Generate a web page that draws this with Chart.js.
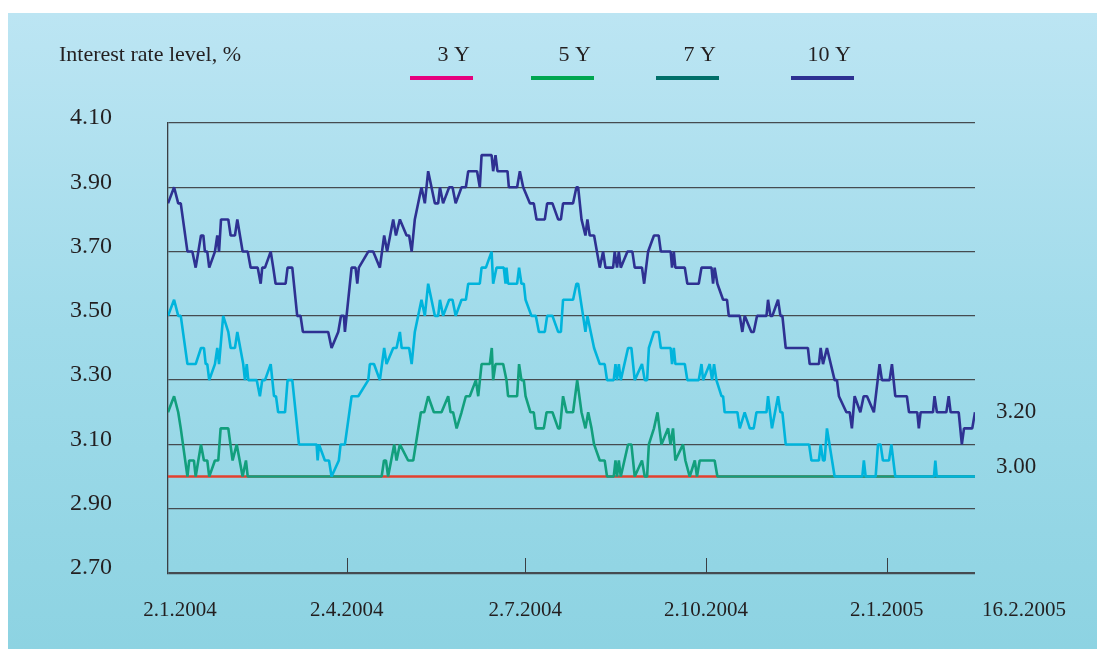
<!DOCTYPE html>
<html>
<head>
<meta charset="utf-8">
<script src="https://cdn.jsdelivr.net/npm/chart.js@4.4.1/dist/chart.umd.min.js"></script>
<style>
  html, body { margin: 0; padding: 0; background: #ffffff; }
  #wrap { width: 1097px; height: 649px; }
</style>
</head>
<body>
<div id="wrap"><canvas id="c" width="1097" height="649"></canvas></div>
<script>
// ---- Data (days counted from 2.1.2004) ----
const titleText = 'Interest rate level, %';
const seriesNames = ['3 Y', '5 Y', '7 Y', '10 Y'];
const yTicks = [2.70, 2.90, 3.10, 3.30, 3.50, 3.70, 3.90, 4.10];
const tickDays = [0, 91, 182, 274, 366, 411];
const tickLabels = ['2.1.2004', '2.4.2004', '2.7.2004', '2.10.2004', '2.1.2005', '16.2.2005'];

const days3Y = [0, 411];
const rate3Y = [3.00, 3.00];

const days5Y = [0,3.1,5.2,6.5,9.9,10.8,13.2,14.1,16.8,18.3,20.0,21.0,23.9,25.6,26.8,30.7,32.9,35.0,38.0,39.7,40.6,
  108.8,110.0,111.0,112.1,115.2,116.4,118.1,122.3,124.9,128.8,130.5,132.5,135.4,139.3,142.7,143.9,145.2,147.0,149.5,
  151.7,153.7,156.8,158.0,159.7,163.9,164.9,165.6,166.8,170.7,172.4,173.2,177.8,178.8,180.0,181.2,182.1,184.6,186.3,
  187.3,191.4,192.8,195.8,198.7,199.6,201.2,203.0,206.3,208.4,210.6,212.6,214.0,215.7,217.0,219.9,222.4,223.6,227.0,
  227.9,228.7,229.6,230.6,234.3,236.0,237.7,241.4,242.8,244.0,244.9,247.5,249.3,251.3,254.7,255.9,257.2,258.4,262.3,
  263.5,265.7,268.3,269.4,270.8,278.4,279.8,411];
const rate5Y = [3.20,3.25,3.20,3.15,3.00,3.05,3.05,3.00,3.10,3.05,3.05,3.00,3.05,3.05,3.15,3.15,3.05,3.10,3.00,3.05,3.00,
  3.00,3.05,3.05,3.00,3.10,3.05,3.10,3.05,3.05,3.20,3.20,3.25,3.20,3.20,3.25,3.20,3.20,3.15,3.20,
  3.25,3.25,3.30,3.25,3.35,3.35,3.40,3.30,3.35,3.35,3.30,3.25,3.25,3.35,3.30,3.30,3.25,3.20,3.20,
  3.15,3.15,3.20,3.20,3.15,3.15,3.25,3.20,3.20,3.30,3.20,3.15,3.20,3.15,3.10,3.05,3.05,3.00,3.00,
  3.05,3.00,3.05,3.00,3.10,3.10,3.00,3.05,3.00,3.00,3.10,3.15,3.20,3.10,3.15,3.10,3.15,3.05,3.10,
  3.05,3.00,3.05,3.00,3.05,3.05,3.00,3.00];

const days7Y = [0,3.1,5.2,6.5,9.9,14.1,16.8,18.3,19.2,20.0,21.0,23.9,25.1,26.0,28.1,30.7,31.9,34.1,35.3,38.3,39.2,40.1,
  40.9,45.2,46.8,48.0,49.4,52.3,54.0,55.0,56.1,59.6,60.9,63.3,66.7,75.7,76.2,76.9,79.9,82.0,83.3,87.0,87.9,90.1,93.5,
  96.9,102.0,102.8,104.9,107.9,110.1,111.3,114.7,116.4,118.1,119.0,122.8,124.1,125.7,129.1,130.8,132.5,135.9,137.6,
  138.5,140.1,143.2,144.9,146.5,149.5,151.7,152.9,158.8,159.7,161.9,164.8,165.6,167.3,171.0,171.9,172.4,173.2,177.8,
  178.8,180.0,181.2,182.1,185.1,187.3,188.9,191.9,193.1,195.8,198.7,200.1,201.2,206.3,208.0,208.9,211.4,212.6,213.6,
  215.3,217.0,219.9,222.4,223.6,227.0,227.9,228.7,229.6,230.6,234.3,236.0,237.7,241.4,242.8,244.0,244.9,247.5,249.9,
  251.0,256.0,256.7,257.6,258.4,263.2,264.5,270.3,271.7,272.5,275.9,277.1,278.1,279.3,281.9,282.7,283.5,290.0,291.2,
  293.7,296.3,298.3,299.7,304.8,305.6,307.6,310.7,311.9,312.9,314.6,326.5,327.7,331.5,332.4,333.6,334.4,335.6,339.5,
  353.6,354.4,355.3,360.4,361.6,362.9,364.1,367.2,368.4,370.4,390.1,390.8,391.5,411];
const rate7Y = [3.50,3.55,3.50,3.50,3.35,3.35,3.40,3.40,3.35,3.35,3.30,3.35,3.40,3.35,3.50,3.45,3.40,3.40,3.45,3.35,3.30,3.35,
  3.30,3.30,3.25,3.30,3.30,3.35,3.25,3.25,3.20,3.20,3.30,3.30,3.10,3.10,3.05,3.10,3.05,3.05,3.00,3.05,3.10,3.10,3.25,
  3.25,3.30,3.35,3.35,3.30,3.40,3.35,3.40,3.40,3.45,3.40,3.40,3.35,3.45,3.55,3.50,3.60,3.50,3.50,
  3.55,3.50,3.55,3.55,3.50,3.55,3.55,3.60,3.60,3.65,3.65,3.70,3.60,3.65,3.65,3.60,3.65,3.60,3.60,
  3.65,3.60,3.60,3.55,3.50,3.50,3.45,3.45,3.50,3.50,3.45,3.45,3.55,3.55,3.60,3.60,3.50,3.45,3.50,
  3.45,3.40,3.35,3.35,3.30,3.30,3.35,3.30,3.35,3.30,3.40,3.40,3.30,3.35,3.30,3.30,3.40,3.45,3.45,
  3.40,3.40,3.35,3.40,3.35,3.35,3.30,3.30,3.35,3.30,3.35,3.30,3.35,3.30,3.25,3.25,3.20,3.20,3.15,
  3.20,3.15,3.15,3.20,3.20,3.25,3.15,3.25,3.20,3.20,3.10,3.10,3.05,3.05,3.10,3.05,3.05,3.15,3.00,
  3.00,3.05,3.00,3.00,3.10,3.10,3.05,3.05,3.10,3.00,3.00,3.05,3.00,3.00];

const days10Y = [0,3.1,5.2,6.5,9.9,12.4,14.1,16.8,18.0,18.8,20.0,21.0,23.9,25.1,26.0,27.0,30.7,31.9,34.1,35.3,38.0,40.6,
  42.1,45.7,47.2,48.0,49.4,52.3,53.6,54.8,59.9,60.9,63.3,65.8,67.5,68.7,81.6,83.3,86.7,88.1,89.6,90.1,93.5,95.5,96.4,
  97.2,102.0,104.5,107.9,110.1,111.6,114.7,116.1,118.1,121.5,122.8,124.1,125.7,129.1,130.8,132.5,135.9,137.6,138.5,
  140.1,143.2,144.9,146.5,149.5,151.7,152.9,157.4,158.8,159.7,164.8,165.6,166.8,167.8,172.9,173.6,177.8,179.2,180.9,
  184.3,186.3,187.7,191.9,193.1,195.8,198.7,200.1,201.2,206.3,208.0,208.9,210.6,212.6,213.6,214.8,217.0,219.9,221.6,
  222.8,226.7,227.5,228.7,229.6,230.6,234.0,236.5,237.7,241.4,242.5,244.5,247.5,249.9,251.0,256.0,256.7,257.6,258.4,
  263.2,264.5,270.3,271.7,276.8,277.6,278.4,279.8,282.7,284.7,285.6,291.2,292.5,293.7,297.1,298.3,300.0,304.8,305.6,
  306.8,307.8,310.7,311.9,312.9,314.6,325.9,326.8,331.5,332.4,333.6,335.6,339.5,340.7,341.7,345.5,347.2,348.3,349.7,
  352.6,354.3,356.0,359.5,362.4,363.6,367.5,368.7,370.4,376.3,377.4,381.6,382.4,383.3,389.6,390.4,391.6,396.4,397.6,
  398.6,402.7,404.3,405.4,409.6,411];
const rate10Y = [3.85,3.90,3.85,3.85,3.70,3.70,3.65,3.75,3.75,3.70,3.70,3.65,3.70,3.75,3.70,3.80,3.80,3.75,3.75,3.80,3.70,3.70,
  3.65,3.65,3.60,3.65,3.65,3.70,3.65,3.60,3.60,3.65,3.65,3.50,3.50,3.45,3.45,3.40,3.45,3.50,3.50,3.45,3.65,3.65,3.60,
  3.65,3.70,3.70,3.65,3.75,3.70,3.80,3.75,3.80,3.75,3.75,3.70,3.80,3.90,3.85,3.95,3.85,3.85,3.90,
  3.85,3.90,3.90,3.85,3.90,3.90,3.95,3.95,3.90,4.00,4.00,3.95,4.00,3.95,3.95,3.90,3.90,3.95,3.90,
  3.85,3.85,3.80,3.80,3.85,3.85,3.80,3.80,3.85,3.85,3.90,3.90,3.80,3.75,3.80,3.75,3.75,3.65,3.70,
  3.65,3.65,3.70,3.65,3.70,3.65,3.70,3.70,3.65,3.65,3.60,3.70,3.75,3.75,3.70,3.70,3.65,3.70,3.65,
  3.65,3.60,3.60,3.65,3.65,3.60,3.65,3.60,3.55,3.55,3.50,3.50,3.45,3.50,3.45,3.45,3.50,3.50,3.55,
  3.50,3.50,3.55,3.50,3.50,3.40,3.40,3.35,3.35,3.40,3.35,3.40,3.30,3.30,3.25,3.20,3.20,3.15,3.25,
  3.20,3.25,3.25,3.20,3.35,3.30,3.30,3.35,3.25,3.25,3.20,3.20,3.15,3.20,3.20,3.25,3.20,3.20,3.25,
  3.20,3.20,3.10,3.15,3.15,3.20];

// ---- Styles ----
const lineColors = ['#e2412f', '#129f7d', '#00b4dc', '#2e3192'];
const legendColors = ['#e5007d', '#00a650', '#006f69', '#2e3192'];
const TEXT = '#231f20';
const SERIF = '"Liberation Serif", "DejaVu Serif", serif';

const pts = (d, r) => d.map((x, i) => ({ x: x, y: r[i] }));
const allDays = [days3Y, days5Y, days7Y, days10Y];
const allRates = [rate3Y, rate5Y, rate7Y, rate10Y];

const decorPlugin = {
  id: 'decor',
  beforeDraw(chart) {
    const ctx = chart.ctx;
    ctx.save();
    ctx.fillStyle = '#ffffff';
    ctx.fillRect(0, 0, chart.width, chart.height);
    const g = ctx.createLinearGradient(0, 13, 0, 649);
    g.addColorStop(0, '#bce5f3');
    g.addColorStop(0.5, '#a0dbea');
    g.addColorStop(1, '#8dd3e2');
    ctx.fillStyle = g;
    ctx.fillRect(8, 13, chart.width - 8, chart.height - 13);
    ctx.restore();
  },
  afterDraw(chart) {
    const ctx = chart.ctx;
    const xs = chart.scales.x, ys = chart.scales.y;
    const area = chart.chartArea;
    ctx.save();
    // title
    ctx.fillStyle = TEXT;
    ctx.font = '22px ' + SERIF;
    ctx.textBaseline = 'middle';
    ctx.textAlign = 'left';
    ctx.fillText(titleText, 59, 55);
    // legend
    const legX = [410, 531, 656, 791];
    seriesNames.forEach((n, i) => {
      const x0 = legX[i], x1 = x0 + 63;
      ctx.fillStyle = TEXT;
      ctx.textAlign = 'right';
      ctx.fillText(n, x1 - 3, 55);
      ctx.fillStyle = legendColors[i];
      ctx.fillRect(x0, 76, x1 - x0, 4);
    });
    // inner x ticks
    ctx.strokeStyle = '#3a3f44';
    ctx.lineWidth = 1;
    tickDays.forEach((d, i) => {
      if (i === 0 || i === tickDays.length - 1) return;
      const x = Math.round(xs.getPixelForValue(d)) + 0.5;
      ctx.beginPath();
      ctx.moveTo(x, area.bottom - 15);
      ctx.lineTo(x, area.bottom);
      ctx.stroke();
    });
    // x labels
    ctx.fillStyle = TEXT;
    ctx.font = '21px ' + SERIF;
    ctx.textBaseline = 'middle';
    tickDays.forEach((d, i) => {
      let x = xs.getPixelForValue(d);
      if (i === tickDays.length - 1) { ctx.textAlign = 'left'; x += 7; }
      else { ctx.textAlign = 'center'; if (i === 0) x += 12; }
      ctx.fillText(tickLabels[i], x, 610);
    });
    // end-value labels
    ctx.font = '23px ' + SERIF;
    ctx.textAlign = 'left';
    const last10 = rate10Y[rate10Y.length - 1];
    const last7 = rate7Y[rate7Y.length - 1];
    ctx.fillText(last10.toFixed(2), area.right + 21, ys.getPixelForValue(last10));
    ctx.fillText(last7.toFixed(2), area.right + 21, ys.getPixelForValue(last7) - 10);
    ctx.restore();
  }
};

new Chart(document.getElementById('c'), {
  type: 'line',
  data: {
    datasets: seriesNames.map((n, i) => ({
      label: n,
      data: pts(allDays[i], allRates[i]),
      borderColor: lineColors[i],
      backgroundColor: lineColors[i],
      borderWidth: 2.6,
      borderJoinStyle: 'bevel',
      pointRadius: 0,
      tension: 0,
      fill: false,
      order: 4 - i
    }))
  },
  options: {
    responsive: false,
    animation: false,
    devicePixelRatio: 1,
    layout: { padding: { left: 60, right: 122, top: 123, bottom: 76 } },
    plugins: { legend: { display: false }, tooltip: { enabled: false } },
    scales: {
      x: {
        type: 'linear',
        display: false,
        min: tickDays[0],
        max: tickDays[tickDays.length - 1]
      },
      y: {
        type: 'linear',
        min: yTicks[0],
        max: yTicks[yTicks.length - 1],
        afterBuildTicks: (s) => { s.ticks = yTicks.map(v => ({ value: v })); },
        afterFit: (s) => { s.width = 108; },
        ticks: {
          color: TEXT,
          font: { family: SERIF, size: 24 },
          padding: 56,
          labelOffset: -5,
          callback: (v) => Number(v).toFixed(2)
        },
        grid: {
          drawTicks: false,
          color: '#454b50',
          lineWidth: (c) => (c.tick && Math.abs(c.tick.value - yTicks[0]) < 1e-6) ? 2.2 : 1.3
        },
        border: { display: true, color: '#3a3f44', width: 1.3 }
      }
    }
  },
  plugins: [decorPlugin]
});
</script>
</body>
</html>
